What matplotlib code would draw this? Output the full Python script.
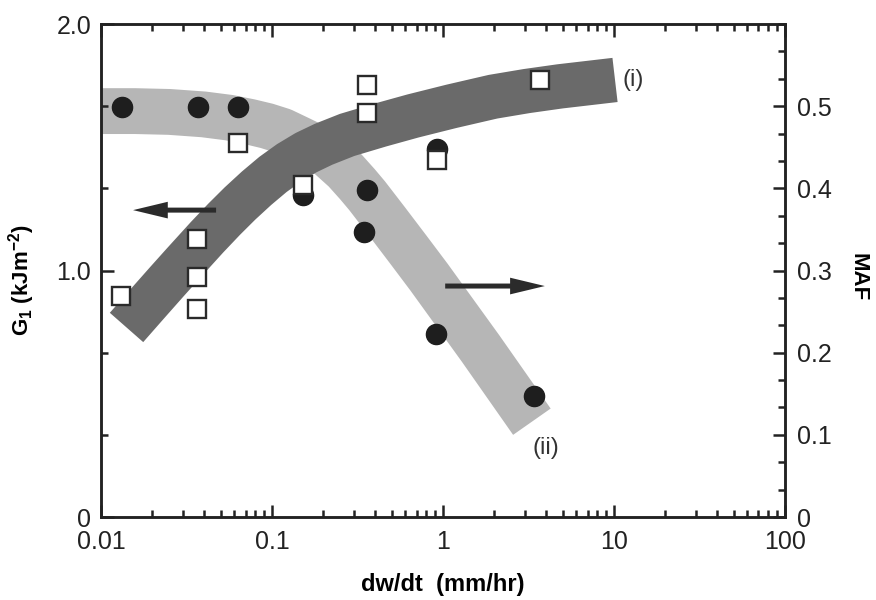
import matplotlib
matplotlib.use('Agg')
import matplotlib.pyplot as plt
from matplotlib.ticker import MultipleLocator, LogLocator, NullFormatter

plt.rcParams['font.family'] = ['Liberation Sans', 'DejaVu Sans']
plt.rcParams['mathtext.fontset'] = 'custom'
plt.rcParams['mathtext.rm'] = 'Liberation Sans'
plt.rcParams['mathtext.bf'] = 'Liberation Sans:bold'

# trend band (i): G1 vs dw/dt (left axis)
band_i_x = [0.0141, 0.0186, 0.0243, 0.0302, 0.0417, 0.0525, 0.065, 0.0813,
            0.1014, 0.126, 0.158, 0.2, 0.275, 0.429, 0.668, 1.12, 1.96,
            3.09, 4.83, 10.14]
band_i_g1 = [0.769, 0.864, 0.955, 1.028, 1.135, 1.208, 1.272, 1.334,
             1.390, 1.437, 1.478, 1.512, 1.550, 1.590, 1.627, 1.666, 1.705,
             1.728, 1.747, 1.773]

# trend band (ii): MAF vs dw/dt (right axis)
band_ii_x = [0.00891, 0.0158, 0.0251, 0.0398, 0.0562, 0.0741, 0.0933, 0.115,
             0.145, 0.174, 0.214, 0.267, 0.316, 0.36, 0.465, 0.624, 0.828,
             1.66, 3.31]
band_ii_maf = [0.494, 0.494, 0.493, 0.490, 0.486, 0.481, 0.476, 0.470,
               0.460, 0.452, 0.440, 0.422, 0.405, 0.391, 0.361, 0.326, 0.292,
               0.205, 0.116]

# measured G1 (open squares)
g1_x = [0.0131, 0.0364, 0.0364, 0.0364, 0.0632, 0.152, 0.36, 0.36, 0.923, 3.69]
g1_y = [0.897, 1.128, 0.974, 0.844, 1.517, 1.347, 1.753, 1.639, 1.448, 1.773]

# measured MAF (filled circles)
maf_x = [0.0133, 0.0369, 0.0632, 0.152, 0.36, 0.345, 0.923, 0.91, 3.4]
maf_y = [0.499, 0.499, 0.499, 0.392, 0.398, 0.347, 0.448, 0.223, 0.147]

x_ticks = [0.01, 0.1, 1, 10, 100]
x_tick_labels = ['0.01', '0.1', '1', '10', '100']
g1_ticks = [0, 1.0, 2.0]
g1_tick_labels = ['0', '1.0', '2.0']
maf_ticks = [0, 0.1, 0.2, 0.3, 0.4, 0.5]
maf_tick_labels = ['0', '0.1', '0.2', '0.3', '0.4', '0.5']

fig = plt.figure(figsize=(8.76, 6.0), dpi=100)
ax = fig.add_axes([0.1153, 0.1383, 0.7808, 0.8217])
ax2 = ax.twinx()
ax.set_xscale('log')
ax.set_xlim(0.01, 100)
ax.set_ylim(0, 2.0)
ax2.set_ylim(0, 0.6)
ax.set_autoscale_on(False)
ax2.set_autoscale_on(False)

# bands, light one under the dark one
ax.plot(band_ii_x, band_ii_maf, transform=ax2.transData, color='#b6b6b6',
        lw=33, solid_capstyle='butt', solid_joinstyle='round', zorder=1)
ax.plot(band_i_x, band_i_g1, color='#6a6a6a', lw=32,
        solid_capstyle='butt', solid_joinstyle='round', zorder=2)

# points
ax.plot(maf_x, maf_y, 'o', transform=ax2.transData, ms=14.5,
        color='#1e1e1e', zorder=3)
ax.plot(g1_x, g1_y, 's', ms=13, mfc='white', mec='#2a2a2a', mew=1.7, zorder=4)

# arrows pointing to the relevant axis
arrow_kw = dict(arrowstyle='simple,head_length=1.25,head_width=0.6,tail_width=0.18',
                fc='#2b2b2b', ec='none', mutation_scale=20, shrinkA=0, shrinkB=0)
ax.annotate('', xy=(0.0154, 1.245), xytext=(0.0471, 1.245),
            arrowprops=arrow_kw, zorder=5)
ax.annotate('', xy=(3.94, 0.937), xytext=(1.03, 0.937),
            arrowprops=arrow_kw, zorder=5)

ax.text(12.9, 1.773, '(i)', fontsize=17, ha='center', va='center', color='#333333')
ax.text(4.0, 0.28, '(ii)', fontsize=17, ha='center', va='center', color='#333333')

# ticks
ax.set_xticks(x_ticks)
ax.set_xticklabels(x_tick_labels)
ax.xaxis.set_minor_locator(LogLocator(base=10, subs=range(2, 10)))
ax.xaxis.set_minor_formatter(NullFormatter())
ax.set_yticks(g1_ticks)
ax.set_yticklabels(g1_tick_labels)
ax.yaxis.set_minor_locator(MultipleLocator(1 / 3))
ax2.set_yticks(maf_ticks)
ax2.set_yticklabels(maf_tick_labels)
ax2.yaxis.set_minor_locator(MultipleLocator(0.1 / 3))

for a in (ax, ax2):
    a.tick_params(which='both', direction='in', width=1.8, labelsize=18,
                  colors='#222222')
    a.tick_params(which='major', length=9)
    a.tick_params(which='minor', length=5)
    for s in a.spines.values():
        s.set_linewidth(1.8)
        s.set_color('#222222')
ax.tick_params(axis='x', which='both', top=True, pad=9)
ax.tick_params(axis='y', which='both', pad=7)
ax2.tick_params(axis='y', which='both', pad=9)

ax.set_xlabel('dw/dt  (mm/hr)', fontsize=17, fontweight='bold', labelpad=14)
fig.text(22 / 876, 1 - 280 / 600, r'G$_{\mathbf{1}}$ (kJm$^{\mathbf{-2}}$)',
         fontsize=16, fontweight='bold', rotation=90, ha='center', va='center')
fig.text(858 / 876, 1 - 277 / 600, 'MAF', fontsize=16, fontweight='bold',
         rotation=270, ha='center', va='center')

fig.savefig('out.png', dpi=100)
